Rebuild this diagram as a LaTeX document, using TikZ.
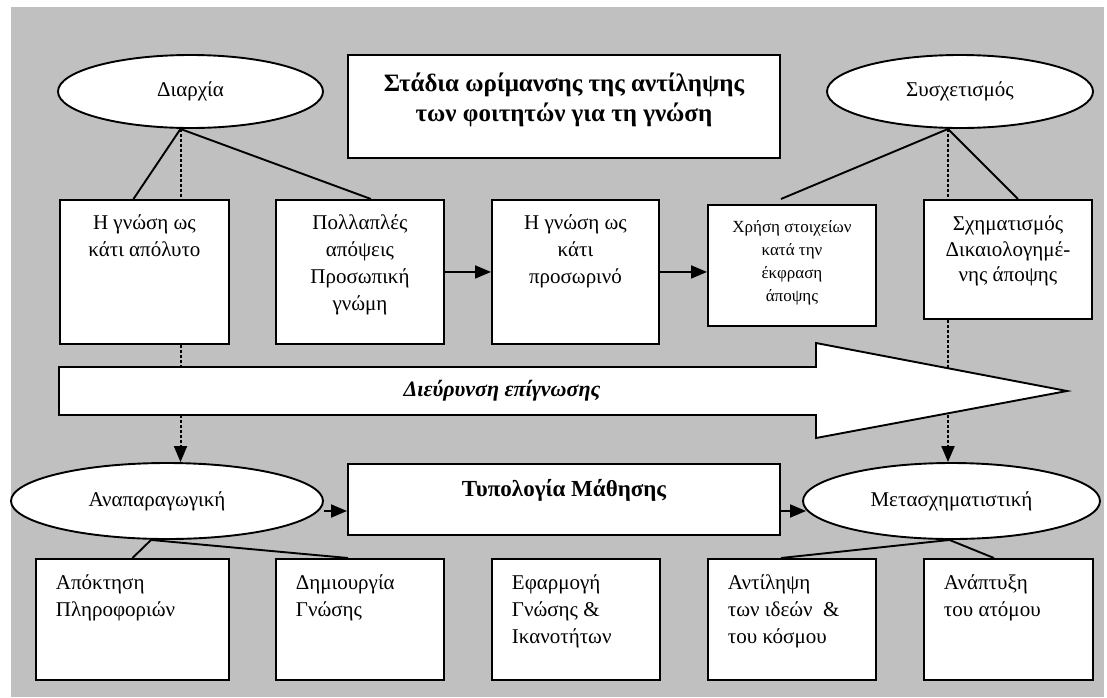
\documentclass[tikz,border=0pt]{standalone}
\usepackage{fontspec}
\setmainfont{Liberation Serif}
\usetikzlibrary{arrows.meta,calc,shapes.geometric}
\definecolor{panelgray}{RGB}{192,192,192}
% box bodies: width, height, first baseline, lines
\newcommand\mkcentered[4]{\parbox[c][#2][t]{#1}{\centering\rule{0pt}{#3}#4\par}}
\newcommand\mkleft[4]{\parbox[c][#2][t]{#1}{\raggedright\leftskip=20pt\rule{0pt}{#3}#4\par}}
\begin{document}
\begin{tikzpicture}[x=1pt,y=-1pt,
  every node/.style={font=\fontsize{21}{27}\selectfont, inner sep=0pt},
  panel/.style={draw, fill=white, line width=1.9pt, anchor=north west},
  oval/.style={ellipse, draw, fill=white, line width=1.9pt},
  link/.style={line width=1.9pt},
  dots/.style={line width=2pt, dash pattern=on 3pt off 2pt},
  tip/.style={-{Triangle[length=16pt,width=13pt]}}]
\useasboundingbox (0,0) rectangle (1107,697);
\fill[panelgray] (11,7) rectangle (1104,697);

% ellipses
\node[oval, minimum width=265pt, minimum height=73pt] (dia) at (190.5,91.5) {Διαρχία};
\node[oval, minimum width=266pt, minimum height=73pt] (sys) at (960,91.5) {Συσχετισμός};
\node[oval, minimum width=312pt, minimum height=76pt] (ana) at (167,501) {Αναπαραγωγική\hspace*{20pt}};
\node[oval, minimum width=297pt, minimum height=76pt] (meta) at (951.5,501) {Μετασχηματιστική};

% title
\node[panel, font=\fontsize{25}{30}\selectfont\bfseries] (title) at (347,54)
  {\mkcentered{432pt}{103pt}{37pt}{Στάδια ωρίμανσης της αντίληψης\\των φοιτητών για τη γνώση}};

% upper row
\node[panel] (t1) at (59,199) {\mkcentered{169pt}{144pt}{30pt}{Η γνώση ως\\κάτι απόλυτο}};
\node[panel] (t2) at (275,199) {\mkcentered{168pt}{144pt}{30pt}{Πολλαπλές\\απόψεις\\Προσωπική\\γνώμη}};
\node[panel] (t3) at (491,199) {\mkcentered{167pt}{144pt}{30pt}{Η γνώση ως\\κάτι\\προσωρινό}};
\node[panel, font=\fontsize{17}{23}\selectfont] (t4) at (707,204)
  {\mkcentered{168pt}{121pt}{28pt}{Χρήση στοιχείων\\κατά την\\έκφραση\\άποψης}};
\node[panel, font=\fontsize{21}{25.5}\selectfont] (t5) at (923,199)
  {\mkcentered{168pt}{119pt}{31pt}{Σχηματισμός\\Δικαιολογημέ-\\νης άποψης}};

% typology
\node[panel, font=\fontsize{23}{27}\selectfont\bfseries] (typ) at (347,463)
  {\mkcentered{432pt}{71pt}{33pt}{Τυπολογία Μάθησης}};

% lower row
\node[panel] (b1) at (35,558) {\mkleft{193pt}{121pt}{31pt}{Απόκτηση\\Πληροφοριών}};
\node[panel] (b2) at (275,558) {\mkleft{168pt}{121pt}{31pt}{Δημιουργία\\Γνώσης}};
\node[panel] (b3) at (491,558) {\mkleft{168pt}{121pt}{31pt}{Εφαρμογή\\Γνώσης \&\\Ικανοτήτων}};
\node[panel] (b4) at (707,558) {\mkleft{168pt}{121pt}{31pt}{Αντίληψη\\των ιδεών~ \&\\του κόσμου}};
\node[panel] (b5) at (923,558) {\mkleft{169pt}{121pt}{31pt}{Ανάπτυξη\\του ατόμου}};

% branching points under the ellipses
\coordinate (diaB) at ($(dia.south)+(-10,0)$);
\coordinate (sysB) at ($(sys.south)+(-12,0)$);
\coordinate (anaB) at ($(ana.south)+(-16,0)$);
\coordinate (metaB) at ($(meta.south)+(-2,0)$);

% Διαρχία
\draw[link] (diaB) -- ($(t1.north)+(-11,0)$);
\draw[link] (diaB) -- ($(t2.north)+(11,0)$);
\draw[dots] (diaB) -- (diaB |- t1.north);
\draw[dots, tip] (t1.south -| diaB) -- (diaB |- ana.north);

% Συσχετισμός
\draw[link] (sysB) -- ($(t4.north)+(-11,-5)$);
\draw[link] (sysB) -- ($(t5.north)+(10,0)$);
\draw[dots] (sysB) -- (sysB |- t5.north);
\draw[dots, tip] (t5.south -| sysB) -- (sysB |- meta.north);

% upper row sequence
\draw[link, tip] (t2.east) -- (t3.west);
\draw[link, tip] (t3.east) -- (t3.east -| t4.west);

% lower branches
\draw[link] (anaB) -- (b1.north);
\draw[link] (anaB) -- ($(b2.north)+(-12,0)$);
\draw[link] (metaB) -- ($(b4.north)+(-11,0)$);
\draw[link] (metaB) -- ($(b5.north)+(-14.5,0)$);

% typology arrows
\coordinate (anaR) at ($(ana.east)+(0,10)$);
\coordinate (metaL) at ($(meta.west)+(4,0)$);
\draw[link, tip] (anaR) -- (anaR -| typ.west);
\draw[link, tip] (anaR -| typ.east) -- (anaR -| metaL);

% wide arrow
\draw[link, fill=white] (59,367) -- (816,367) -- (816,343) -- (1067,391)
  -- (816,438) -- (816,415) -- (59,415) -- cycle;
\node[font=\fontsize{22}{25}\selectfont\bfseries\itshape] (widen) at (502,391) {Διεύρυνση επίγνωσης};
\end{tikzpicture}
\end{document}
